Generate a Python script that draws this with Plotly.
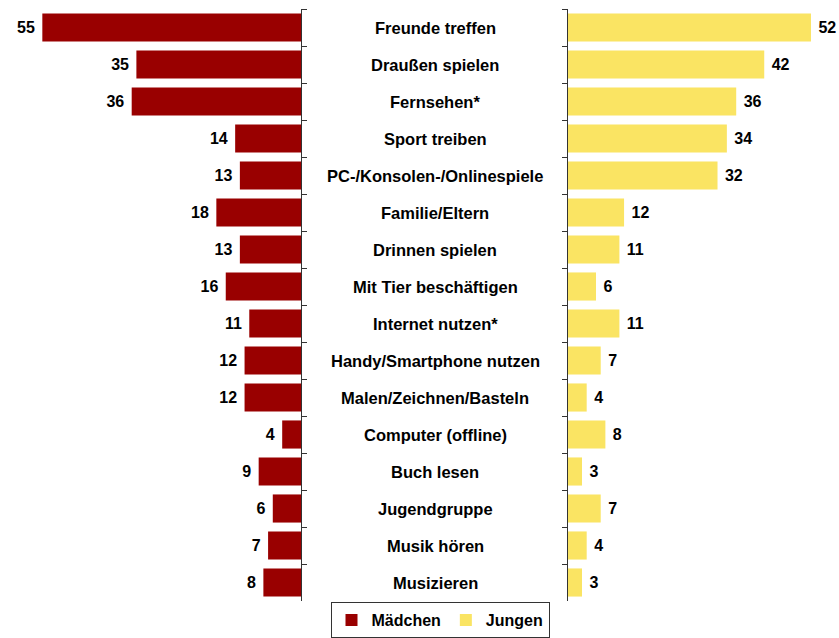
import plotly.graph_objects as go

categories = ["Freunde treffen", "Draußen spielen", "Fernsehen*", "Sport treiben",
              "PC-/Konsolen-/Onlinespiele", "Familie/Eltern", "Drinnen spielen",
              "Mit Tier beschäftigen", "Internet nutzen*", "Handy/Smartphone nutzen",
              "Malen/Zeichnen/Basteln", "Computer (offline)", "Buch lesen",
              "Jugendgruppe", "Musik hören", "Musizieren"]
maedchen = [55, 35, 36, 14, 13, 18, 13, 16, 11, 12, 12, 4, 9, 6, 7, 8]
jungen = [52, 42, 36, 34, 32, 12, 11, 6, 11, 7, 4, 8, 3, 7, 4, 3]

FONT = "Liberation Sans, Arial, sans-serif"
RED = "#990000"
YELLOW = "#FAE463"

fig = go.Figure()
fig.add_trace(go.Bar(y=categories, x=maedchen, orientation="h", name="<b>Mädchen</b>",
                     marker=dict(color=RED, line=dict(width=0)),
                     text=["<b>%d</b>\u00a0" % v for v in maedchen],
                     textposition="outside", cliponaxis=False,
                     textfont=dict(family=FONT, size=16, color="#000000"),
                     xaxis="x", yaxis="y"))
fig.add_trace(go.Bar(y=categories, x=jungen, orientation="h", name="<b>Jungen</b>",
                     marker=dict(color=YELLOW, line=dict(width=0)),
                     text=["\u00a0<b>%d</b>" % v for v in jungen],
                     textposition="outside", cliponaxis=False,
                     textfont=dict(family=FONT, size=16, color="#000000"),
                     xaxis="x2", yaxis="y2"))

for c in categories:
    fig.add_annotation(x=0.5185, xref="paper", y=c, yref="y", text="<b>%s</b>" % c,
                       showarrow=False, xanchor="center", yanchor="middle",
                       font=dict(family=FONT, size=16.5, color="#000000"))

W, H = 839, 638
fig.update_layout(
    width=W, height=H,
    margin=dict(l=0, r=0, t=9, b=37, autoexpand=False),
    paper_bgcolor="white", plot_bgcolor="white",
    bargap=0.24,
    font=dict(family=FONT, color="#000000"),
    xaxis=dict(domain=[0, 301 / W], range=[64, 0], visible=False),
    xaxis2=dict(domain=[568 / W, 1], range=[0, 58], visible=False),
    yaxis=dict(anchor="x", side="right", autorange="reversed", type="category",
               showline=True, linecolor="#333333", linewidth=1,
               ticks="outside", tickson="boundaries", ticklen=5, tickcolor="#333333",
               showticklabels=False, showgrid=False, zeroline=False),
    yaxis2=dict(anchor="x2", side="left", autorange="reversed", type="category",
                showline=True, linecolor="#333333", linewidth=1,
                ticks="outside", tickson="boundaries", ticklen=5, tickcolor="#333333",
                showticklabels=False, showgrid=False, zeroline=False),
    legend=dict(orientation="h", x=440 / W, xanchor="center", yref="container",
                y=-0.01, yanchor="bottom",
                bordercolor="#333333", borderwidth=1,
                font=dict(family=FONT, size=16, color="#000000"),
                traceorder="normal"),
    showlegend=True,
)

fig.write_html("out.html", config={"displayModeBar": False},
               post_script="document.body.style.margin='0';")
